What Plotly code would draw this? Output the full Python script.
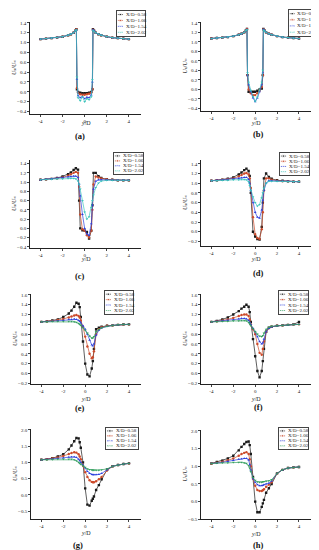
import plotly.graph_objects as go

W, H = 319, 550

# ---------------- data ----------------
SERIES = ["X/D=0.58", "X/D=1.06", "X/D=1.54", "X/D=2.02"]
PANEL_LABELS = ["(a)", "(b)", "(c)", "(d)", "(e)", "(f)", "(g)", "(h)"]
X_TICKS = [-4, -2, 0, 2, 4]
X_TICK_TEXT = ["-4", "-2", "0", "2", "4"]
Y_TICKS_AC = [-0.4, -0.2, 0.0, 0.2, 0.4, 0.6, 0.8, 1.0, 1.2, 1.4]
Y_TICKS_D = [-0.2, 0.0, 0.2, 0.4, 0.6, 0.8, 1.0, 1.2, 1.4]
Y_TICKS_EF = [-0.2, 0.0, 0.2, 0.4, 0.6, 0.8, 1.0, 1.2, 1.4, 1.6]
Y_TICKS_GH = [-0.5, 0.0, 0.5, 1.0, 1.5, 2.0]

# y/D stations for panels (a),(b)
XAB = [-4, -3.5, -3, -2.5, -2, -1.5, -1.25, -1, -0.85, -0.75, -0.7, -0.6, -0.4, -0.2, 0,
       0.2, 0.4, 0.6, 0.7, 0.75, 0.85, 1, 1.25, 1.5, 2, 2.5, 3, 3.5, 4]
# y/D stations for panels (c)-(h)
XC = [-4, -3.5, -3, -2.5, -2, -1.5, -1.25, -1, -0.8, -0.6, -0.5, -0.4, -0.2, 0, 0.2, 0.4,
      0.6, 0.7, 0.8, 1, 1.25, 1.5, 2, 2.5, 3, 3.5, 4]

A_058 = [1.07, 1.08, 1.09, 1.10, 1.12, 1.15, 1.17, 1.20, 1.24, 1.27, 0.05, 0.00, -0.02, -0.03, -0.03,
         -0.03, -0.02, 0.00, 0.05, 1.27, 1.24, 1.20, 1.17, 1.15, 1.12, 1.10, 1.09, 1.08, 1.07]
A_106 = [1.07, 1.08, 1.09, 1.10, 1.12, 1.15, 1.17, 1.20, 1.24, 1.27, 0.08, -0.02, -0.05, -0.06, -0.06,
         -0.05, -0.04, -0.02, 0.06, 1.26, 1.24, 1.20, 1.17, 1.15, 1.12, 1.10, 1.09, 1.08, 1.07]
A_154 = [1.07, 1.08, 1.09, 1.10, 1.12, 1.15, 1.17, 1.20, 1.24, 1.26, 0.25, -0.08, -0.12, -0.10, -0.14,
         -0.11, -0.12, -0.06, 0.20, 1.26, 1.24, 1.20, 1.17, 1.15, 1.12, 1.10, 1.09, 1.08, 1.07]
A_202 = [1.07, 1.08, 1.09, 1.10, 1.12, 1.15, 1.17, 1.20, 1.24, 1.26, 0.30, -0.12, -0.18, -0.10, -0.20,
         -0.14, -0.16, -0.10, 0.25, 1.25, 1.23, 1.20, 1.17, 1.15, 1.12, 1.10, 1.09, 1.08, 1.07]

B_058 = [1.07, 1.08, 1.09, 1.10, 1.12, 1.15, 1.17, 1.20, 1.24, 1.27, 0.30, -0.05, -0.05, -0.05, -0.05,
         -0.03, 0.00, 0.02, 0.30, 1.27, 1.24, 1.20, 1.17, 1.15, 1.12, 1.10, 1.09, 1.08, 1.07]
B_106 = [1.07, 1.08, 1.09, 1.10, 1.12, 1.15, 1.17, 1.20, 1.24, 1.27, 0.30, 0.00, -0.08, -0.12, -0.12,
         -0.08, -0.03, 0.05, 0.30, 1.26, 1.24, 1.20, 1.17, 1.15, 1.12, 1.10, 1.09, 1.08, 1.07]
B_154 = [1.07, 1.08, 1.09, 1.10, 1.12, 1.15, 1.17, 1.20, 1.24, 1.26, 0.30, 0.10, -0.05, -0.18, -0.26,
         -0.18, -0.05, 0.10, 0.35, 1.26, 1.24, 1.20, 1.17, 1.15, 1.12, 1.10, 1.09, 1.08, 1.07]
B_202 = [1.07, 1.08, 1.09, 1.10, 1.12, 1.15, 1.17, 1.20, 1.24, 1.26, 0.35, 0.15, -0.02, -0.15, -0.25,
         -0.16, -0.02, 0.15, 0.40, 1.25, 1.23, 1.20, 1.17, 1.15, 1.12, 1.10, 1.09, 1.08, 1.07]

C_058 = [1.05, 1.06, 1.07, 1.09, 1.12, 1.17, 1.21, 1.26, 1.30, 1.27, 0.60, 0.00, -0.04, -0.05, -0.08,
         -0.22, -0.05, 0.50, 1.20, 1.20, 1.13, 1.09, 1.06, 1.05, 1.04, 1.04, 1.04]
C_106 = [1.05, 1.06, 1.07, 1.08, 1.10, 1.14, 1.17, 1.20, 1.22, 1.20, 0.90, 0.30, -0.02, -0.05, -0.15,
         -0.20, -0.05, 0.40, 0.95, 1.12, 1.10, 1.08, 1.06, 1.05, 1.04, 1.04, 1.04]
C_154 = [1.05, 1.06, 1.07, 1.08, 1.09, 1.11, 1.12, 1.13, 1.13, 1.10, 0.95, 0.70, 0.30, 0.00, -0.12,
         -0.15, 0.10, 0.50, 0.85, 1.02, 1.05, 1.05, 1.05, 1.04, 1.04, 1.04, 1.04]
C_202 = [1.05, 1.06, 1.06, 1.07, 1.07, 1.08, 1.08, 1.08, 1.07, 1.02, 0.95, 0.85, 0.60, 0.35, 0.20,
         0.25, 0.45, 0.60, 0.72, 0.88, 0.98, 1.02, 1.04, 1.04, 1.04, 1.04, 1.04]

D_058 = [1.05, 1.06, 1.07, 1.09, 1.12, 1.18, 1.22, 1.27, 1.30, 1.25, 1.15, 0.80, 0.00, -0.10, -0.15,
         -0.16, 0.10, 0.60, 1.10, 1.20, 1.13, 1.09, 1.06, 1.05, 1.04, 1.03, 1.03]
D_106 = [1.05, 1.06, 1.07, 1.08, 1.10, 1.14, 1.17, 1.20, 1.21, 1.18, 1.10, 0.90, 0.30, -0.05, -0.13,
         -0.15, 0.05, 0.40, 0.85, 1.10, 1.10, 1.07, 1.05, 1.04, 1.04, 1.03, 1.03]
D_154 = [1.05, 1.06, 1.06, 1.07, 1.08, 1.10, 1.11, 1.12, 1.12, 1.08, 1.00, 0.85, 0.60, 0.40, 0.30,
         0.28, 0.45, 0.65, 0.85, 1.00, 1.05, 1.05, 1.04, 1.04, 1.04, 1.03, 1.03]
D_202 = [1.05, 1.05, 1.06, 1.06, 1.07, 1.07, 1.08, 1.08, 1.07, 1.03, 0.95, 0.85, 0.72, 0.60, 0.53,
         0.56, 0.70, 0.80, 0.90, 1.00, 1.04, 1.04, 1.04, 1.04, 1.03, 1.03, 1.03]

E_058 = [1.05, 1.06, 1.08, 1.10, 1.15, 1.22, 1.28, 1.36, 1.44, 1.42, 1.35, 1.15, 0.65, 0.20, -0.02,
         -0.06, 0.10, 0.25, 0.50, 0.90, 0.93, 0.95, 0.97, 0.98, 0.99, 1.00, 1.00]
E_106 = [1.05, 1.06, 1.07, 1.09, 1.11, 1.14, 1.16, 1.18, 1.19, 1.17, 1.14, 1.08, 0.95, 0.75, 0.55,
         0.40, 0.31, 0.33, 0.45, 0.80, 0.90, 0.94, 0.97, 0.98, 0.99, 1.00, 1.00]
E_154 = [1.05, 1.06, 1.06, 1.07, 1.08, 1.10, 1.10, 1.11, 1.10, 1.08, 1.06, 1.03, 0.97, 0.90, 0.80,
         0.68, 0.58, 0.56, 0.60, 0.78, 0.88, 0.93, 0.96, 0.98, 0.99, 1.00, 1.00]
E_202 = [1.05, 1.05, 1.06, 1.06, 1.06, 1.06, 1.06, 1.05, 1.04, 1.02, 1.00, 0.98, 0.93, 0.88, 0.82,
         0.76, 0.72, 0.72, 0.75, 0.85, 0.90, 0.93, 0.96, 0.98, 0.99, 1.00, 1.00]

F_058 = [1.05, 1.07, 1.10, 1.14, 1.20, 1.27, 1.32, 1.36, 1.40, 1.36, 1.25, 1.05, 0.70, 0.35, 0.05,
         -0.08, 0.05, 0.25, 0.50, 0.85, 0.93, 0.95, 0.97, 0.98, 0.99, 1.00, 1.05]
F_106 = [1.05, 1.06, 1.08, 1.10, 1.13, 1.17, 1.19, 1.20, 1.20, 1.17, 1.10, 1.00, 0.90, 0.80, 0.60,
         0.42, 0.38, 0.50, 0.65, 0.85, 0.92, 0.95, 0.97, 0.98, 0.99, 1.00, 1.00]
F_154 = [1.05, 1.06, 1.07, 1.08, 1.09, 1.11, 1.12, 1.12, 1.11, 1.08, 1.04, 1.00, 0.92, 0.85, 0.75,
         0.65, 0.60, 0.62, 0.70, 0.85, 0.92, 0.95, 0.97, 0.98, 0.99, 1.00, 1.00]
F_202 = [1.05, 1.05, 1.06, 1.06, 1.07, 1.07, 1.08, 1.08, 1.07, 1.04, 1.01, 0.97, 0.91, 0.85, 0.80,
         0.76, 0.75, 0.77, 0.82, 0.90, 0.94, 0.96, 0.97, 0.98, 0.99, 1.00, 1.00]

G_058 = [1.08, 1.10, 1.13, 1.18, 1.25, 1.40, 1.52, 1.65, 1.75, 1.74, 1.62, 1.45, 1.00, 0.20, -0.30,
         -0.33, -0.18, -0.12, -0.05, 0.15, 0.30, 0.48, 0.78, 0.88, 0.92, 0.95, 0.97]
G_106 = [1.08, 1.10, 1.12, 1.15, 1.20, 1.26, 1.29, 1.31, 1.30, 1.25, 1.18, 1.10, 0.90, 0.70, 0.55,
         0.45, 0.40, 0.39, 0.39, 0.42, 0.48, 0.55, 0.75, 0.88, 0.92, 0.95, 0.97]
G_154 = [1.08, 1.09, 1.10, 1.12, 1.14, 1.16, 1.17, 1.17, 1.15, 1.10, 1.05, 1.00, 0.92, 0.83, 0.72,
         0.66, 0.63, 0.62, 0.62, 0.62, 0.63, 0.66, 0.77, 0.88, 0.92, 0.95, 0.97]
G_202 = [1.08, 1.08, 1.09, 1.10, 1.10, 1.10, 1.10, 1.08, 1.05, 1.00, 0.97, 0.94, 0.89, 0.85, 0.80,
         0.78, 0.77, 0.76, 0.76, 0.76, 0.76, 0.77, 0.80, 0.88, 0.92, 0.95, 0.97]

H_058 = [1.08, 1.12, 1.16, 1.22, 1.30, 1.45, 1.55, 1.63, 1.69, 1.70, 1.60, 1.35, 0.70, 0.00, -0.30,
         -0.30, -0.15, -0.05, 0.05, 0.25, 0.38, 0.50, 0.80, 0.90, 0.95, 0.97, 0.98]
H_106 = [1.08, 1.10, 1.13, 1.17, 1.22, 1.30, 1.35, 1.38, 1.40, 1.35, 1.20, 1.00, 0.65, 0.45, 0.33,
         0.30, 0.30, 0.32, 0.35, 0.42, 0.48, 0.55, 0.80, 0.90, 0.95, 0.97, 0.98]
H_154 = [1.08, 1.09, 1.11, 1.14, 1.17, 1.20, 1.21, 1.22, 1.22, 1.18, 1.05, 0.90, 0.65, 0.55, 0.48,
         0.45, 0.45, 0.46, 0.48, 0.50, 0.52, 0.58, 0.80, 0.90, 0.95, 0.97, 0.98]
H_202 = [1.08, 1.09, 1.10, 1.10, 1.11, 1.11, 1.11, 1.10, 1.08, 1.02, 0.95, 0.85, 0.68, 0.60, 0.56,
         0.55, 0.55, 0.56, 0.57, 0.58, 0.59, 0.62, 0.80, 0.90, 0.95, 0.97, 0.98]

PANELS = [
    (XAB, [A_058, A_106, A_154, A_202]),
    (XAB, [B_058, B_106, B_154, B_202]),
    (XC, [C_058, C_106, C_154, C_202]),
    (XC, [D_058, D_106, D_154, D_202]),
    (XC, [E_058, E_106, E_154, E_202]),
    (XC, [F_058, F_106, F_154, F_202]),
    (XC, [G_058, G_106, G_154, G_202]),
    (XC, [H_058, H_106, H_154, H_202]),
]

# ---------------- styling / layout ----------------
FONT = "Liberation Serif"
COLORS_TOP = ["#1a1a1a", "#cc4a2a", "#2b3fdc", "#3cc4bc"]
COLORS_BOT = ["#1a1a1a", "#cc4a2a", "#2b3fdc", "#35a060"]
SYMBOLS = ["square", "circle", "triangle-up", "triangle-down"]
Y_TITLE = ("<i>U</i><span style='font-size:4px'>x</span>/"
           "<i>U</i><span style='font-size:4px'>∞</span>")

# plot boxes in pixels: left, top, right, bottom
BOXES = [(22, 13, 133, 106), (193, 13, 303, 103),
         (22, 152, 133, 241), (193, 152, 303, 239),
         (23, 287, 133, 378), (193, 287, 303, 378),
         (23, 423, 133, 514), (193, 424, 303, 514)]
YRANGES = [(-0.455, 1.42), (-0.46, 1.42), (-0.43, 1.48), (-0.30, 1.48),
           (-0.22, 1.62), (-0.22, 1.62), (-0.75, 2.03), (-0.5, 2.03)]
YTICKS = [Y_TICKS_AC, Y_TICKS_AC, Y_TICKS_AC, Y_TICKS_D,
          Y_TICKS_EF, Y_TICKS_EF, Y_TICKS_GH, Y_TICKS_GH]
LEG_BOXES = [(109, 2, 137, 27), (281, 1, 308, 27),
             (106, 145, 135, 166), (272, 145, 301, 167),
             (97, 284, 125, 307), (271, 284, 300, 307),
             (98, 422, 130, 443), (271, 422, 300, 443)]
LABEL_POS = [(72, 128), (250, 126), (72, 269), (250, 266),
             (72, 402), (250, 401), (70, 540), (250, 540)]
XTITLE_Y = [115, 115, 252, 252, 393, 393, 528, 529]


def fx(p):
    return p / W


def fy(p):
    return 1 - p / H


fig = go.Figure()
layout = dict(width=W, height=H, margin=dict(l=0, r=0, t=0, b=0),
              paper_bgcolor="white", plot_bgcolor="rgba(0,0,0,0)",
              showlegend=False, font=dict(family=FONT, size=5, color="#222"))
annotations = []

for i, (xs, ys_list) in enumerate(PANELS):
    n = i + 1
    ax = "" if n == 1 else str(n)
    colors = COLORS_TOP if i < 4 else COLORS_BOT
    for k, ys in enumerate(ys_list):
        fig.add_trace(go.Scatter(
            x=xs, y=ys, mode="lines+markers", name=SERIES[k],
            line=dict(color=colors[k], width=0.7),
            marker=dict(symbol=SYMBOLS[k], size=2.4, color=colors[k]),
            xaxis="x" + ax, yaxis="y" + ax))
    l, t, r, b = BOXES[i]
    layout["xaxis" + ax] = dict(
        domain=[fx(l), fx(r)], range=[-4.95, 5.1], anchor="y" + ax,
        tickvals=X_TICKS, ticktext=X_TICK_TEXT, ticks="outside", ticklen=2,
        tickwidth=0.5, showline=True, linecolor="#222", linewidth=0.7,
        showgrid=False, zeroline=False, tickfont=dict(size=5, family=FONT))
    layout["yaxis" + ax] = dict(
        domain=[fy(b), fy(t)], range=list(YRANGES[i]), anchor="x" + ax,
        tickvals=YTICKS[i], tickformat=".1f", ticks="outside", ticklen=2,
        tickwidth=0.5, showline=True, linecolor="#222", linewidth=0.7,
        showgrid=False, zeroline=False, tickfont=dict(size=5, family=FONT))

    # axis titles and panel label
    annotations.append(dict(x=fx((l + r) / 2), y=fy(XTITLE_Y[i]), xref="paper", yref="paper",
                            xanchor="center", yanchor="middle",
                            text="<i>y</i>/D", showarrow=False,
                            font=dict(size=6, family=FONT, color="#222")))
    annotations.append(dict(x=fx(l - 16), y=fy((t + b) / 2), xref="paper", yref="paper",
                            xanchor="center", yanchor="middle",
                            text=Y_TITLE, textangle=-90,
                            showarrow=False, font=dict(size=6, family=FONT, color="#222")))
    lx, ly = LABEL_POS[i]
    annotations.append(dict(x=fx(lx), y=fy(ly), xref="paper", yref="paper",
                            xanchor="center", yanchor="middle",
                            text="<b>" + PANEL_LABELS[i] + "</b>", showarrow=False,
                            font=dict(size=8.5, family=FONT, color="#111")))

    # legend drawn as a small inset subplot
    m = n + 8
    lax = str(m)
    for k in range(4):
        fig.add_trace(go.Scatter(
            x=[0.3, 1.2, 2.1], y=[k + 0.5] * 3, mode="lines+markers",
            line=dict(color=colors[k], width=0.7),
            marker=dict(symbol=SYMBOLS[k], size=[0, 2.4, 0], color=colors[k]),
            xaxis="x" + lax, yaxis="y" + lax, hoverinfo="skip"))
        annotations.append(dict(x=2.4, y=k + 0.5, xref="x" + lax, yref="y" + lax,
                                xanchor="left", yanchor="middle", text=SERIES[k],
                                showarrow=False,
                                font=dict(size=5, family=FONT, color="#222")))
    ll, lt, lr, lb = LEG_BOXES[i]
    layout["xaxis" + lax] = dict(domain=[fx(ll), fx(lr)], range=[0, 10], anchor="y" + lax,
                                 showline=True, mirror=True, linecolor="#444", linewidth=0.5,
                                 showticklabels=False, ticks="", showgrid=False, zeroline=False)
    layout["yaxis" + lax] = dict(domain=[fy(lb), fy(lt)], range=[4.1, -0.1], anchor="x" + lax,
                                 showline=True, mirror=True, linecolor="#444", linewidth=0.5,
                                 showticklabels=False, ticks="", showgrid=False, zeroline=False)

layout["annotations"] = annotations
fig.update_layout(**layout)
fig.write_html("out.html")
